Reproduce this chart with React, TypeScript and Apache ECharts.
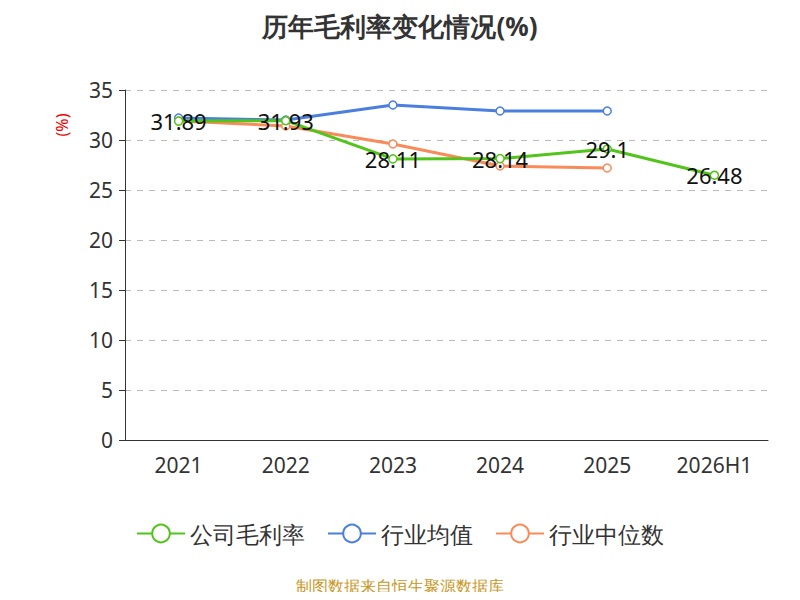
import React, { useEffect, useRef } from "react";
import * as echarts from "echarts";

const categories = ["2021", "2022", "2023", "2024", "2025", "2026H1"];
const company = [31.89, 31.93, 28.11, 28.14, 29.1, 26.48];
const industryAvg = [32.2, 32.0, 33.5, 32.9, 32.9, null];
const industryMedian = [31.9, 31.4, 29.6, 27.4, 27.2, null];

export default function App() {
  const ref = useRef<HTMLDivElement>(null);
  useEffect(() => {
    const chart = echarts.init(ref.current!, null, { renderer: "svg" });
    const font = "Noto Sans";
    const mk = (name: string, data: any[], color: string, extra: any = {}) => ({
      name,
      type: "line",
      data,
      color,
      symbol: "circle",
      symbolSize: 8,
      lineStyle: { width: 3, color },
      itemStyle: { color: "#fff", borderColor: color, borderWidth: 1.5 },
      ...extra,
    });
    chart.setOption({
      animation: false,
      textStyle: { fontFamily: font },
      title: {
        text: "历年毛利率变化情况(%)",
        left: "center",
        top: 0,
        textStyle: { fontSize: 26, fontWeight: "bold", color: "#333", fontFamily: font },
      },
      grid: { left: 117, right: 24, top: 82, bottom: 152 },
      xAxis: {
        type: "category",
        data: categories,
        axisLine: { lineStyle: { color: "#333" } },
        axisTick: { lineStyle: { color: "#333" }, length: 6 },
        axisLabel: { fontSize: 21, color: "#333", margin: 14 },
      },
      yAxis: {
        type: "value",
        min: 0,
        max: 35,
        interval: 5,
        axisLine: { show: true, lineStyle: { color: "#333" } },
        axisTick: { show: true, lineStyle: { color: "#333" }, length: 6 },
        axisLabel: { fontSize: 21, color: "#333", margin: 12 },
        splitLine: { lineStyle: { type: [6, 6], color: "#bbb" } },
      },
      legend: {
        bottom: 42,
        left: "center",
        itemWidth: 48,
        itemHeight: 22,
        itemGap: 22,
        textStyle: { fontSize: 23, color: "#333" },
        data: ["公司毛利率", "行业均值", "行业中位数"],
      },
      graphic: [
        {
          type: "text",
          x: 54,
          y: 117,
          rotation: Math.PI / 2,
          style: { text: "(%)", fill: "#e00", fontSize: 16, fontFamily: font, align: "center", verticalAlign: "middle" },
        },
        {
          type: "text",
          left: "center",
          top: 570,
          style: { text: "制图数据来自恒生聚源数据库", fill: "#c8961e", fontSize: 16, fontFamily: font },
        },
      ],
      series: [
        mk("公司毛利率", company, "#52c41a", {
          label: { show: true, position: "inside", fontSize: 22, color: "#111" },
          z: 3,
        }),
        mk("行业均值", industryAvg, "#4a7fe0", { z: 2 }),
        mk("行业中位数", industryMedian, "#f98b5a", { z: 2 }),
      ],
    });
    return () => chart.dispose();
  }, []);
  return <div ref={ref} style={{ width: 784, height: 584 }} />;
}
